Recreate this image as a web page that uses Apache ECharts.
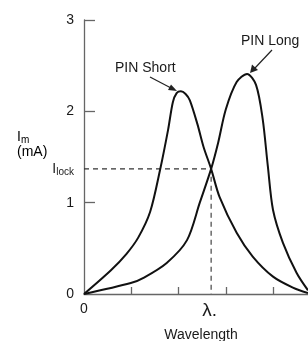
<!DOCTYPE html>
<html>
<head>
<meta charset="utf-8">
<script src="https://cdn.jsdelivr.net/npm/echarts@6/dist/echarts.min.js"></script>
<style>
  html, body { margin: 0; padding: 0; background: #fff; }
  #chart { width: 308px; height: 341px; }
</style>
</head>
<body>
<div id="chart"></div>
<script>
  // wavelength in tick units, current in mA
  const pinShort = [
    [0, 0], [0.57, 0.26], [0.9, 0.44], [1.15, 0.62], [1.40, 0.90], [1.61, 1.36],
    [1.78, 1.80], [1.88, 2.10], [1.96, 2.20], [2.05, 2.22], [2.15, 2.19], [2.24, 2.12],
    [2.40, 1.86], [2.53, 1.61], [2.69, 1.37], [2.87, 1.06], [3.23, 0.67], [3.57, 0.41],
    [4.0, 0.19], [4.42, 0.07], [4.74, 0.01]
  ];
  const pinLong = [
    [0, 0], [0.99, 0.12], [1.27, 0.18], [1.75, 0.34], [2.18, 0.59], [2.45, 1.0],
    [2.69, 1.37], [2.84, 1.66], [3.0, 2.02], [3.23, 2.32], [3.45, 2.41], [3.64, 2.29],
    [3.78, 1.92], [3.89, 1.40], [4.0, 0.92], [4.21, 0.56], [4.5, 0.23], [4.74, 0.04]
  ];
  const yTicks = [1, 2, 3];
  const xTicks = [1, 2, 3, 4];
  const iLock = 1.37;
  const lambdaLock = 2.69;
  const xMax = 4.74;

  const chart = echarts.init(document.getElementById('chart'));
  const font = 'Liberation Sans, Arial, sans-serif';
  const axisColor = '#666';
  const textColor = '#1a1a1a';

  const option = {
    animation: false,
    grid: { left: 84, top: 20, right: 0, bottom: 47, containLabel: false, outerBoundsMode: 'none' },
    xAxis: {
      type: 'value',
      min: 0,
      max: xMax,
      name: 'Wavelength',
      nameLocation: 'middle',
      nameGap: 34,
      nameTextStyle: { fontFamily: font, fontSize: 14, color: textColor, padding: [0, 0, 0, 10] },
      axisLine: { show: true, lineStyle: { color: axisColor, width: 1.3 } },
      axisTick: { show: true, inside: true, length: 7, customValues: xTicks, lineStyle: { color: axisColor, width: 1.3 } },
      axisLabel: {
        show: true,
        customValues: [0, lambdaLock],
        margin: 8,
        formatter: v => v === 0 ? '{a|0}' : '{b|λ.}',
        rich: {
          a: { fontFamily: font, fontSize: 14, lineHeight: 14, color: textColor },
          b: { fontFamily: font, fontSize: 19, lineHeight: 18, color: textColor, padding: [0, 3, 0, 0] }
        }
      },
      splitLine: { show: false }
    },
    yAxis: {
      type: 'value',
      min: 0,
      max: 3,
      interval: 1,
      axisLine: { show: true, lineStyle: { color: axisColor, width: 1.3 } },
      axisTick: { show: true, inside: true, length: 11, customValues: yTicks, lineStyle: { color: axisColor, width: 1.3 } },
      axisLabel: {
        show: true,
        customValues: [0, 1, 2, 3, iLock],
        margin: 10,
        formatter: v => v === iLock ? '{i|I}{s|lock}' : '{a|' + v + '}',
        rich: {
          a: { fontFamily: font, fontSize: 14, color: textColor },
          i: { fontFamily: font, fontSize: 14, color: textColor },
          s: { fontFamily: font, fontSize: 10, color: textColor, padding: [7, 0, 0, 0] }
        }
      },
      splitLine: { show: false }
    },
    series: [
      {
        name: 'PIN Short',
        type: 'line',
        data: pinShort,
        smooth: 0.3,
        showSymbol: false,
        lineStyle: { color: '#111', width: 2 },
        z: 3
      },
      {
        name: 'PIN Long',
        type: 'line',
        data: pinLong,
        smooth: 0.3,
        showSymbol: false,
        lineStyle: { color: '#111', width: 2 },
        z: 3
      },
      {
        name: 'lock',
        type: 'line',
        data: [[0, iLock], [lambdaLock, iLock], [lambdaLock, 0]],
        showSymbol: false,
        lineStyle: { color: '#333', width: 1.1, type: [5, 4] },
        z: 2
      }
    ],
    graphic: [
      {
        type: 'text', left: 17, top: 130,
        style: {
          text: '{i|I}{s|m}\n{a|(mA)}',
          fontFamily: font, align: 'center',
          rich: {
            i: { fontFamily: font, fontSize: 14, color: textColor },
            s: { fontFamily: font, fontSize: 10, color: textColor, padding: [7, 0, 0, 0] },
            a: { fontFamily: font, fontSize: 14, color: textColor }
          }
        }
      },
      {
        type: 'text', left: 115, top: 61,
        style: { text: 'PIN Short', fontFamily: font, fontSize: 14, fill: textColor }
      },
      {
        type: 'text', left: 241, top: 34,
        style: { text: 'PIN Long', fontFamily: font, fontSize: 14, fill: textColor }
      },
      {
        type: 'line',
        shape: { x1: 150, y1: 77, x2: 171, y2: 88 },
        style: { stroke: '#222', lineWidth: 1.2 }
      },
      {
        type: 'polygon',
        shape: { points: [[177, 91], [168, 90], [171, 84.5]] },
        style: { fill: '#222' }
      },
      {
        type: 'line',
        shape: { x1: 272, y1: 50, x2: 255, y2: 68 },
        style: { stroke: '#222', lineWidth: 1.2 }
      },
      {
        type: 'polygon',
        shape: { points: [[250, 73], [252, 64.5], [258, 70]] },
        style: { fill: '#222' }
      }
    ]
  };
  chart.setOption(option);
</script>
</body>
</html>
